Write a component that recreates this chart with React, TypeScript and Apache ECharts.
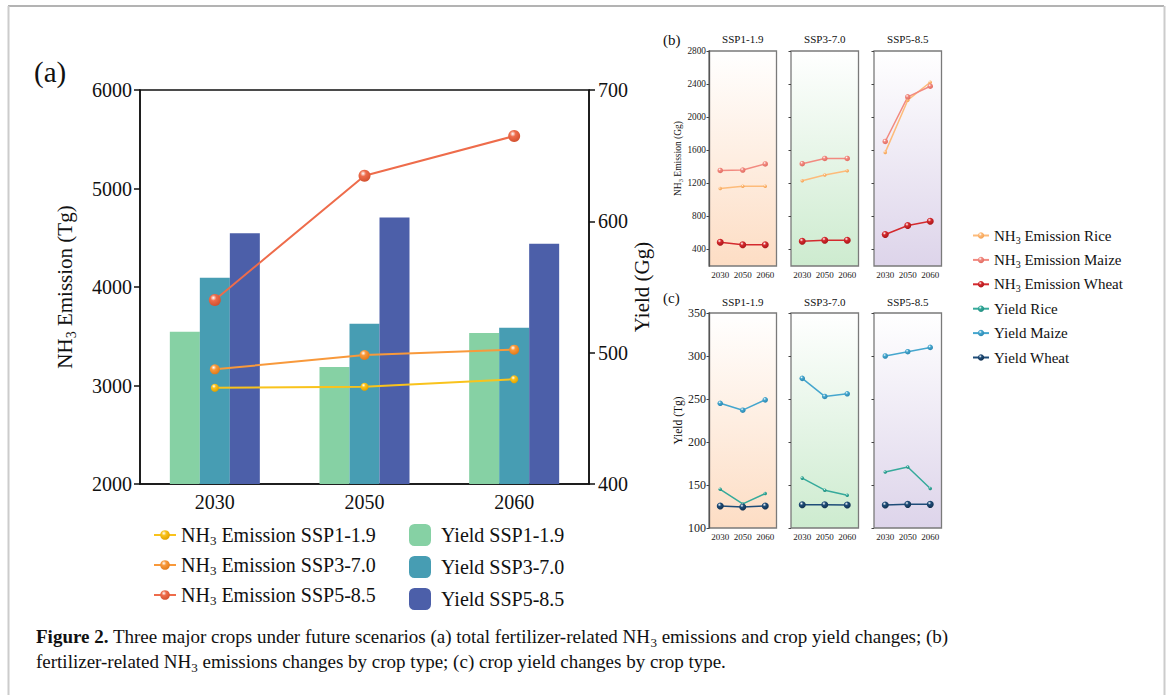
import React, { useEffect, useRef } from 'react';
import * as echarts from 'echarts';

const FONT = '"Liberation Serif", "Times New Roman", serif';

// ---------- data ----------
const years = ['2030', '2050', '2060'];
const scenarios = ['SSP1-1.9', 'SSP3-7.0', 'SSP5-8.5'];

// panel (a): total NH3 emission (Tg, left axis) and yield (Gg, right axis)
const emissionSSP1 = [2978, 2988, 3063];
const emissionSSP3 = [3164, 3310, 3364];
const emissionSSP5 = [3868, 5130, 5533];
const yieldSSP1 = [516, 489, 515];
const yieldSSP3 = [557, 522, 519];
const yieldSSP5 = [591, 603, 583];

// panel (b): NH3 emission by crop (Gg), one row per scenario
const emisRice = [[1136, 1164, 1164], [1232, 1301, 1353], [1574, 2205, 2422]];
const emisMaize = [[1356, 1360, 1434], [1437, 1501, 1501], [1706, 2245, 2374]];
const emisWheat = [[488, 456, 456], [500, 512, 512], [581, 689, 742]];

// panel (c): yield by crop (Tg), one row per scenario
const yieldRice = [[145, 128, 140], [158, 144, 138], [165, 171, 146]];
const yieldMaize = [[245, 237, 249], [274, 253, 256], [300, 305, 310]];
const yieldWheat = [[125.6, 124.5, 125.6], [127, 127, 126.7], [126.7, 127.5, 127.5]];

const emisTicks = [400, 800, 1200, 1600, 2000, 2400, 2800];

// ---------- layout / style ----------
const smallLefts = [709, 791, 874];
const smallWidth = 67.5;
const smallHeight = 215;
const bTop = 51;
const cTop = 313;
const bgBottom = ['#FDDDC4', '#CDEBCF', '#DDD4EA'];

const plain = (v: number) => String(v);

const ball = (base: string, dark: string) =>
  new echarts.graphic.RadialGradient(0.38, 0.32, 0.7, [
    { offset: 0, color: '#ffffff' },
    { offset: 0.35, color: base },
    { offset: 1, color: dark },
  ]);

const bgGrad = (i: number) =>
  new echarts.graphic.LinearGradient(0, 0, 0, 1, [
    { offset: 0, color: '#ffffff' },
    { offset: 1, color: bgBottom[i] },
  ]);

const nhRich = (size: number, sub: number, lh: number) => ({
  n: { fontFamily: FONT, fontSize: size, lineHeight: lh, color: '#111' },
  s: { fontFamily: FONT, fontSize: sub, lineHeight: sub, verticalAlign: 'bottom', color: '#111' },
  g: { width: 5, lineHeight: lh },
});

const nhFormat = (name: string) =>
  name.startsWith('NH3') ? '{n|NH}{s|3}{n|' + name.slice(3) + '}' : '{n|' + name + '}';

export default function App() {
  const ref = useRef<HTMLDivElement>(null);
  useEffect(() => {
    document.body.style.margin = '0';
    if (!ref.current) return;
    const chart = echarts.init(ref.current, undefined, { renderer: 'svg' });

    const grids: any[] = [
      { left: 140, top: 90, width: 449, height: 394, show: true, borderColor: '#111', borderWidth: 1.5, backgroundColor: 'transparent' },
    ];
    [bTop, cTop].forEach((top) => {
      smallLefts.forEach((l, i) => {
        grids.push({ left: l, top, width: smallWidth, height: smallHeight, show: true, borderColor: '#7a7a7a', borderWidth: 1.3, backgroundColor: bgGrad(i) });
      });
    });

    const xAxis: any[] = [
      {
        type: 'category', gridIndex: 0, data: years,
        axisLine: { lineStyle: { color: '#111', width: 1.5 } },
        axisTick: { alignWithLabel: true, length: 6, lineStyle: { color: '#111', width: 1.5 } },
        axisLabel: { fontFamily: FONT, fontSize: 20, color: '#111', margin: 8 },
      },
    ];
    for (let g = 1; g <= 6; g++) {
      xAxis.push({
        type: 'category', gridIndex: g, data: years,
        axisLine: { show: false }, axisTick: { show: false },
        axisLabel: { interval: 0, hideOverlap: false, fontFamily: FONT, fontSize: 9, color: '#222', margin: 4 },
      });
    }

    const yAxis: any[] = [
      {
        type: 'value', gridIndex: 0, position: 'left', min: 2000, max: 6000, interval: 1000,
        axisLine: { show: true, lineStyle: { color: '#111', width: 1.5 } },
        axisTick: { show: true, length: 6, lineStyle: { color: '#111', width: 1.5 } },
        axisLabel: { formatter: plain, fontFamily: FONT, fontSize: 20, color: '#111', margin: 8 },
        splitLine: { show: false },
        name: '{n|NH}{s|3}{n| Emission (Tg)}', nameLocation: 'middle', nameRotate: 90, nameGap: 62,
        nameTextStyle: { fontFamily: FONT, fontSize: 21, lineHeight: 26, rich: nhRich(21, 14, 26) },
      },
      {
        type: 'value', gridIndex: 0, position: 'right', min: 400, max: 700, interval: 100,
        axisLine: { show: true, lineStyle: { color: '#111', width: 1.5 } },
        axisTick: { show: true, length: 6, lineStyle: { color: '#111', width: 1.5 } },
        axisLabel: { formatter: plain, fontFamily: FONT, fontSize: 20, color: '#111', margin: 9 },
        splitLine: { show: false },
        name: 'Yield (Gg)', nameLocation: 'middle', nameRotate: 90, nameGap: 42,
        nameTextStyle: { fontFamily: FONT, fontSize: 21, color: '#111' },
      },
    ];
    for (let i = 0; i < 3; i++) {
      yAxis.push({
        type: 'value', gridIndex: 1 + i, min: 200, max: 2800,
        axisLine: { show: i === 0, lineStyle: { color: '#555', width: 1.3 } },
        axisTick: { show: true, length: 2.5, customValues: emisTicks, lineStyle: { color: '#444', width: 1 } },
        axisLabel: { show: i === 0, customValues: emisTicks, formatter: plain, fontFamily: FONT, fontSize: 9.3, color: '#222', margin: 3 },
        splitLine: { show: false },
        name: i === 0 ? '{n|NH}{s|3}{n| Emission (Gg)}' : '',
        nameLocation: 'middle', nameRotate: 90, nameGap: 22,
        nameTextStyle: { fontFamily: FONT, fontSize: 9.5, lineHeight: 12, rich: nhRich(9.5, 6.5, 12) },
      });
    }
    for (let i = 0; i < 3; i++) {
      yAxis.push({
        type: 'value', gridIndex: 4 + i, min: 100, max: 350, interval: 50,
        axisLine: { show: i === 0, lineStyle: { color: '#555', width: 1.3 } },
        axisTick: { show: true, length: 2.5, lineStyle: { color: '#444', width: 1 } },
        axisLabel: { show: i === 0, formatter: plain, fontFamily: FONT, fontSize: 12, color: '#222', margin: 3 },
        splitLine: { show: false },
        name: i === 0 ? 'Yield (Tg)' : '',
        nameLocation: 'middle', nameRotate: 90, nameGap: 25,
        nameTextStyle: { fontFamily: FONT, fontSize: 11.5, color: '#111' },
      });
    }

    const series: any[] = [
      { name: 'Yield SSP1-1.9', type: 'bar', xAxisIndex: 0, yAxisIndex: 1, data: yieldSSP1, barWidth: 30, barGap: '0%', itemStyle: { color: '#86D1A4' } },
      { name: 'Yield SSP3-7.0', type: 'bar', xAxisIndex: 0, yAxisIndex: 1, data: yieldSSP3, barWidth: 30, barGap: '0%', itemStyle: { color: '#479DB3' } },
      { name: 'Yield SSP5-8.5', type: 'bar', xAxisIndex: 0, yAxisIndex: 1, data: yieldSSP5, barWidth: 30, barGap: '0%', itemStyle: { color: '#4C5FA9' } },
      { name: 'NH3 Emission SSP1-1.9', type: 'line', xAxisIndex: 0, yAxisIndex: 0, z: 4, data: emissionSSP1, symbol: 'circle', symbolSize: 8, lineStyle: { color: '#F9C31C', width: 2 }, itemStyle: { color: ball('#F9C31C', '#E0A000') } },
      { name: 'NH3 Emission SSP3-7.0', type: 'line', xAxisIndex: 0, yAxisIndex: 0, z: 4, data: emissionSSP3, symbol: 'circle', symbolSize: 10, lineStyle: { color: '#F8993B', width: 2 }, itemStyle: { color: ball('#F8993B', '#E07A1A') } },
      { name: 'NH3 Emission SSP5-8.5', type: 'line', xAxisIndex: 0, yAxisIndex: 0, z: 4, data: emissionSSP5, symbol: 'circle', symbolSize: 12, lineStyle: { color: '#EE6C4B', width: 2 }, itemStyle: { color: ball('#EE6C4B', '#D2502F') } },
    ];

    const crops = [
      { name: 'NH3 Emission Rice', data: emisRice, base: '#FDBB7A', dark: '#F4A050', size: 3.5, offset: 1 },
      { name: 'NH3 Emission Maize', data: emisMaize, base: '#F28A80', dark: '#E06A60', size: 5.5, offset: 1 },
      { name: 'NH3 Emission Wheat', data: emisWheat, base: '#D42A2E', dark: '#A81518', size: 7, offset: 1 },
      { name: 'Yield Rice', data: yieldRice, base: '#36AA9B', dark: '#1F8C7E', size: 3.5, offset: 4 },
      { name: 'Yield Maize', data: yieldMaize, base: '#45A6CE', dark: '#2A86B0', size: 5.5, offset: 4 },
      { name: 'Yield Wheat', data: yieldWheat, base: '#1E4C78', dark: '#12304F', size: 7, offset: 4 },
    ];
    crops.forEach((c) => {
      for (let i = 0; i < 3; i++) {
        series.push({
          name: c.name, type: 'line', xAxisIndex: c.offset + i, yAxisIndex: c.offset + 1 + i,
          data: c.data[i], symbol: 'circle', symbolSize: c.size, z: 4,
          lineStyle: { color: c.base, width: 1.5 },
          itemStyle: { color: ball(c.base, c.dark) },
        });
      }
    });

    const graphic: any[] = [
      { type: 'line', shape: { x1: 8, y1: 6, x2: 1164, y2: 6 }, style: { stroke: '#9a9a9a', lineWidth: 1.5 } },
      { type: 'line', shape: { x1: 8.5, y1: 6, x2: 8.5, y2: 695 }, style: { stroke: '#cccccc', lineWidth: 2 } },
      { type: 'line', shape: { x1: 1164.5, y1: 6, x2: 1164.5, y2: 695 }, style: { stroke: '#cccccc', lineWidth: 2 } },
      { type: 'text', x: 34, y: 57, style: { text: '(a)', fontFamily: FONT, fontSize: 29, fill: '#111' } },
      { type: 'text', x: 663, y: 32, style: { text: '(b)', fontFamily: FONT, fontSize: 15, fill: '#111' } },
      { type: 'text', x: 663, y: 290, style: { text: '(c)', fontFamily: FONT, fontSize: 15, fill: '#111' } },
      {
        type: 'text', x: 36, y: 623,
        style: {
          text: '{b|Figure 2.}{n| Three major crops under future scenarios (a) total fertilizer-related NH}{s|3}{n| emissions and crop yield changes; (b)}',
          rich: {
            b: { fontFamily: FONT, fontSize: 19, fontWeight: 'bold', lineHeight: 26, fill: '#111' },
            n: { fontFamily: FONT, fontSize: 19, lineHeight: 26, fill: '#111' },
            s: { fontFamily: FONT, fontSize: 13, lineHeight: 13, verticalAlign: 'bottom', fill: '#111' },
          },
        },
      },
      {
        type: 'text', x: 36, y: 648,
        style: {
          text: '{n|fertilizer-related NH}{s|3}{n| emissions changes by crop type; (c) crop yield changes by crop type.}',
          rich: {
            n: { fontFamily: FONT, fontSize: 19, lineHeight: 26, fill: '#111' },
            s: { fontFamily: FONT, fontSize: 13, lineHeight: 13, verticalAlign: 'bottom', fill: '#111' },
          },
        },
      },
    ];
    [bTop - 12, cTop - 11].forEach((ty) => {
      smallLefts.forEach((l, i) => {
        graphic.push({
          type: 'text', x: l + smallWidth / 2, y: ty,
          style: { text: scenarios[i], fontFamily: FONT, fontSize: 11, fill: '#111', align: 'center', verticalAlign: 'middle' },
        });
      });
    });

    chart.setOption({
      animation: false,
      backgroundColor: '#ffffff',
      grid: grids,
      xAxis,
      yAxis,
      series,
      graphic,
      legend: [
        {
          orient: 'vertical', left: 153, top: 523, padding: 0, itemWidth: 22, itemHeight: 12, itemGap: 6,
          data: ['NH3 Emission SSP1-1.9', 'NH3 Emission SSP3-7.0', 'NH3 Emission SSP5-8.5'],
          formatter: nhFormat,
          textStyle: { fontFamily: FONT, fontSize: 20, lineHeight: 24, color: '#111', rich: nhRich(20, 13, 24) },
        },
        {
          orient: 'vertical', left: 409, top: 523, padding: 0, itemWidth: 22, itemHeight: 22, itemGap: 8,
          data: ['Yield SSP1-1.9', 'Yield SSP3-7.0', 'Yield SSP5-8.5'],
          formatter: (n: string) => '{g|}{n|' + n + '}',
          textStyle: { fontFamily: FONT, fontSize: 20, lineHeight: 24, color: '#111', rich: nhRich(20, 13, 24) },
        },
        {
          orient: 'vertical', left: 972, top: 226, padding: 0, itemWidth: 16, itemHeight: 8, itemGap: 5.4,
          data: crops.map((c) => c.name),
          formatter: nhFormat,
          textStyle: { fontFamily: FONT, fontSize: 15, lineHeight: 19, color: '#111', rich: nhRich(15, 10, 19) },
        },
      ],
    });
    return () => chart.dispose();
  }, []);
  return <div ref={ref} style={{ width: 1171, height: 695 }} />;
}
